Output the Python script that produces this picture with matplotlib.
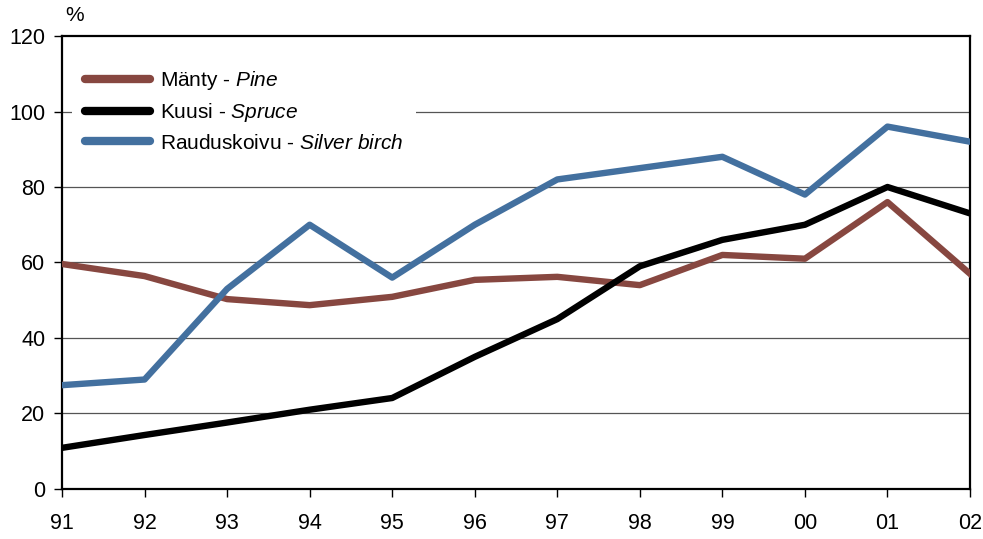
import numpy as np
import matplotlib.pyplot as plt

plt.rcParams['font.family'] = ['Liberation Sans', 'DejaVu Sans']
plt.rcParams['mathtext.fontset'] = 'custom'
plt.rcParams['mathtext.rm'] = 'Liberation Sans'
plt.rcParams['mathtext.it'] = 'Liberation Sans:italic'

years = ['91', '92', '93', '94', '95', '96', '97', '98', '99', '00', '01', '02']
pine = [59.6, 56.4, 50.3, 48.7, 50.9, 55.4, 56.2, 54.0, 62.0, 61.0, 76.0, 57.0]
spruce = [10.9, 14.3, 17.6, 21.0, 24.1, 35.0, 45.0, 59.0, 66.0, 70.0, 80.0, 73.0]
birch = [27.5, 29.0, 53.0, 70.0, 56.0, 70.0, 82.0, 85.0, 88.0, 78.0, 96.0, 92.0]

x = np.arange(len(years))

fig = plt.figure(figsize=(9.83, 5.39), dpi=100)
ax = fig.add_axes([0.0631, 0.0928, 0.9237, 0.8404])

for yv in range(20, 120, 20):
    ax.axhline(yv, color='#555555', lw=0.9, zorder=1)

ax.plot(x, pine, color='#874740', lw=4.6, label='Mänty - $\\it{Pine}$', zorder=3)
ax.plot(x, spruce, color='black', lw=4.6, label='Kuusi - $\\it{Spruce}$', zorder=3)
ax.plot(x, birch, color='#43709F', lw=4.6, label='Rauduskoivu - $\\it{Silver\\ birch}$', zorder=3)

ax.set_xlim(0, len(years) - 1)
ax.set_ylim(0, 120)
ax.set_xticks(x)
ax.set_xticklabels(years)
ax.set_yticks(range(0, 121, 20))
ax.tick_params(direction='out', length=6, width=1, labelsize=15.5, pad=6)
ax.tick_params(axis='x', pad=11)
for s in ax.spines.values():
    s.set_linewidth(1.6)

ax.text(0.004, 1.025, '%', transform=ax.transAxes, fontsize=15, ha='left', va='bottom')

leg = ax.legend(loc='upper left', bbox_to_anchor=(0.0, 0.978), fontsize=15,
                frameon=True, fancybox=False, edgecolor='none', facecolor='white',
                framealpha=1, handlelength=3.1, handletextpad=0.5,
                labelspacing=0.45, borderpad=0.6)
leg.set_zorder(2)
for h in leg.get_lines():
    h.set_solid_capstyle('round')
    h.set_linewidth(6)

fig.savefig('out.png', dpi=100)
